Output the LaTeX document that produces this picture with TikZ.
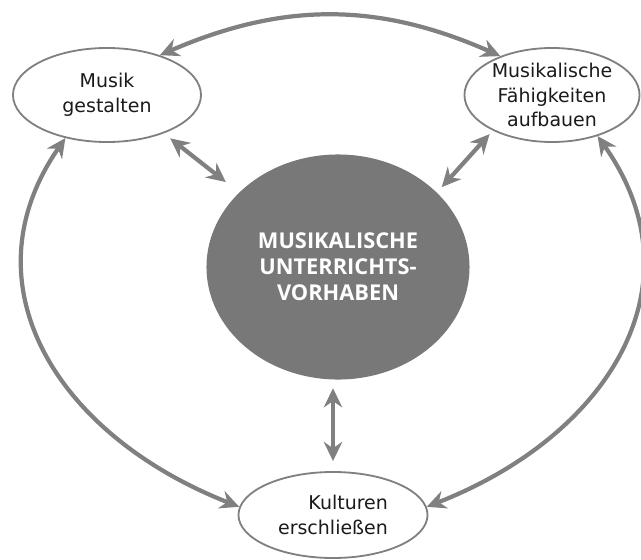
\documentclass[tikz,border=0pt]{standalone}
\usepackage{fontspec}
\setmainfont{DejaVu Sans}
\newfontfamily\hubfont{Open Sans}
\usetikzlibrary{arrows.meta,shapes.geometric}
\definecolor{linegray}{HTML}{808080}
\definecolor{hubgray}{HTML}{787878}
\definecolor{inkgray}{HTML}{1A1A1A}
\tikzset{
  field/.style={ellipse,draw=linegray,line width=1.3pt,fill=white,inner sep=0pt,
    align=center,text=inkgray,font=\fontsize{13.5}{17.7}\selectfont},
  hub/.style={ellipse,fill=hubgray,inner sep=0pt,align=center,text=white,
    font=\hubfont\bfseries\fontsize{15.5}{18.6}\selectfont},
  biarrow/.style={draw=linegray,line width=3pt,
    {Stealth[length=4.8mm,width=4.6mm,inset=1.6mm]}-{Stealth[length=4.8mm,width=4.6mm,inset=1.6mm]}}
}

\begin{document}
\begin{tikzpicture}[x=0.025cm,y=-0.025cm]
  \useasboundingbox (0,0) rectangle (641,560);
  % the four fields
  \node[hub,minimum width=6.575cm,minimum height=5.625cm] (ctr) at (338,267)
    {MUSIKALISCHE\\UNTERRICHTS-\\VORHABEN};
  \node[field,minimum width=4.7cm,minimum height=2.35cm] (tl) at (107,95)
    {Musik\\gestalten};
  \node[field,minimum width=4.375cm,minimum height=2.35cm] (tr) at (552,95)
    {Musikalische\\Fähigkeiten\\aufbauen};
  \node[field,minimum width=4.725cm,minimum height=2.15cm,align=right] (bot) at (333,515)
    {Kulturen\\erschließen};
  % outer ring
  \draw[biarrow] (tl.37) .. controls (283,2) and (378,2) .. (tr.143);
  \draw[biarrow] (tl.226) .. controls (-36,284) and (56,435) .. (bot.175);
  \draw[biarrow] (tr.318) .. controls (702,284) and (610,435) .. (bot.5);
  % spokes to the centre
  \draw[biarrow,shorten <=0.2cm,shorten >=0.42cm] (tl.-34) -- (ctr.143);
  \draw[biarrow,shorten <=0.12cm,shorten >=0.18cm] (tr.211) -- (ctr.37);
  \draw[biarrow,shorten <=0.25cm,shorten >=0.21cm] (bot.north) -- (bot.north |- ctr.south);
\end{tikzpicture}
\end{document}
